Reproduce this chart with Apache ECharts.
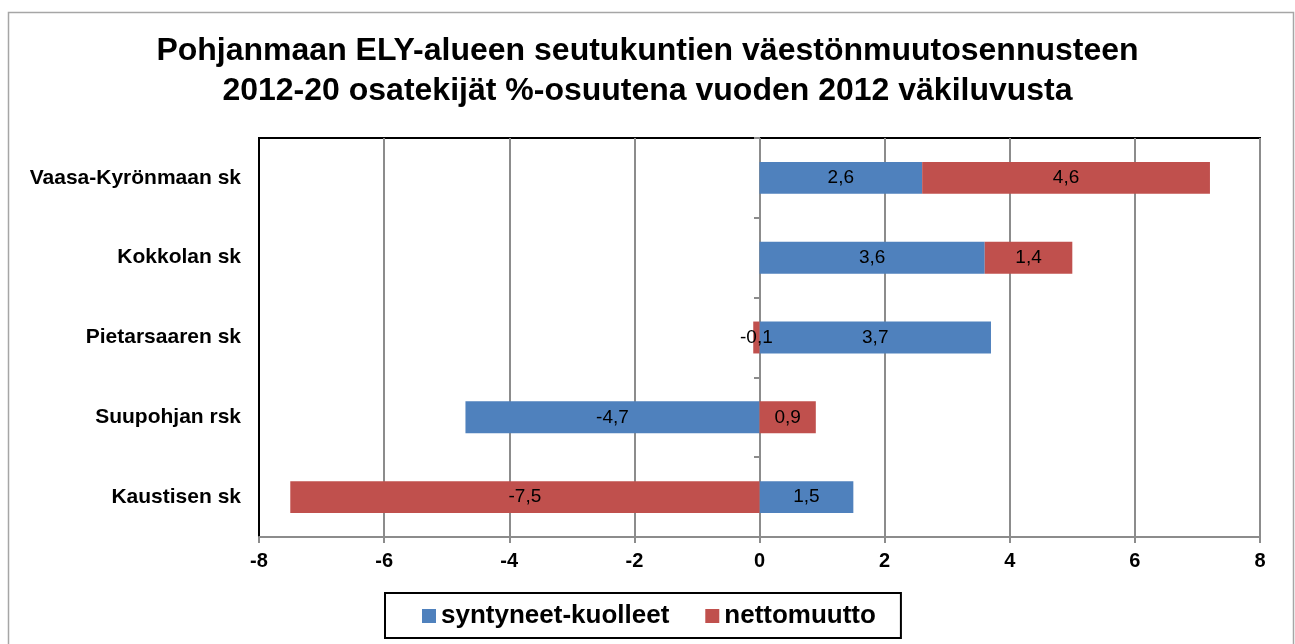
<!DOCTYPE html>
<html>
<head>
<meta charset="utf-8">
<script src="https://cdn.jsdelivr.net/npm/echarts@6/dist/echarts.min.js"></script>
<style>
	html,body{margin:0;padding:0;background:#fff;}
	#chart{width:1295px;height:644px;}
</style>
</head>
<body>
<div id="chart"></div>
<script>
	// seutukunnat, ylhäältä alas
	var regions = ['Vaasa-Kyrönmaan sk', 'Kokkolan sk', 'Pietarsaaren sk', 'Suupohjan rsk', 'Kaustisen sk'];
	var births = [2.6, 3.6, 3.7, -4.7, 1.5];
	var netMigration = [4.6, 1.4, -0.1, 0.9, -7.5];
	var seriesNames = ['syntyneet-kuolleet', 'nettomuutto'];

	var fmt = function(p){ return String(p.value).replace('.', ','); };
	var font = 'Liberation Sans, Arial';

	var chart = echarts.init(document.getElementById('chart'));
	var option = {
		animation: false,
		title: {
			text: 'Pohjanmaan ELY-alueen seutukuntien väestönmuutosennusteen\n2012-20 osatekijät %-osuutena vuoden 2012 väkiluvusta',
			left: 'center',
			top: 26,
			textStyle: {fontFamily: font, fontSize: 32, fontWeight: 'bold', color: '#000', lineHeight: 40}
		},
		graphic: [{
			type: 'rect',
			shape: {x: 8.5, y: 12.5, width: 1285, height: 640},
			style: {fill: 'none', stroke: '#a6a6a6', lineWidth: 1.5},
			silent: true
		}],
		legend: {
			data: seriesNames,
			bottom: 6,
			left: 385,
			itemWidth: 14,
			itemHeight: 14,
			itemGap: 36,
			borderColor: '#000',
			borderWidth: 2,
			padding: [10, 25, 9, 37],
			icon: 'rect',
			textStyle: {fontFamily: font, fontSize: 26, fontWeight: 'bold', color: '#000'}
		},
		grid: {
			left: 259, right: 35, top: 138, bottom: 107,
			show: true, borderColor: '#000', borderWidth: 2, backgroundColor: '#fff'
		},
		xAxis: {
			type: 'value',
			min: -8, max: 8, interval: 2,
			axisLine: {show: true, onZero: false, lineStyle: {color: '#8c8c8c', width: 2}},
			axisTick: {show: true, length: 6, lineStyle: {color: '#8c8c8c', width: 2}},
			splitLine: {show: true, lineStyle: {color: '#8c8c8c', width: 2}},
			axisLabel: {fontFamily: font, fontSize: 20, fontWeight: 'bold', color: '#000', margin: 14}
		},
		yAxis: [{
			type: 'category',
			data: regions,
			inverse: true,
			axisLine: {show: true, onZero: false, lineStyle: {color: '#000', width: 2}},
			axisTick: {show: false},
			axisLabel: {fontFamily: font, fontSize: 21, fontWeight: 'bold', color: '#000', margin: 18}
		}, {
			type: 'category',
			data: regions,
			inverse: true,
			position: 'left',
			offset: -501,
			axisLine: {show: false},
			axisTick: {show: true, length: 6, lineStyle: {color: '#8c8c8c', width: 2}},
			axisLabel: {show: false}
		}],
		series: [{
			name: seriesNames[0],
			type: 'bar',
			stack: 'total',
			data: births,
			barWidth: '40%',
			itemStyle: {color: '#4f81bd'},
			label: {show: true, position: 'inside', formatter: fmt, fontFamily: font, fontSize: 19, color: '#000'}
		}, {
			name: seriesNames[1],
			type: 'bar',
			stack: 'total',
			data: netMigration,
			barWidth: '40%',
			itemStyle: {color: '#c0504d'},
			label: {show: true, position: 'inside', formatter: fmt, fontFamily: font, fontSize: 19, color: '#000'}
		}]
	};
	chart.setOption(option);
</script>
</body>
</html>
